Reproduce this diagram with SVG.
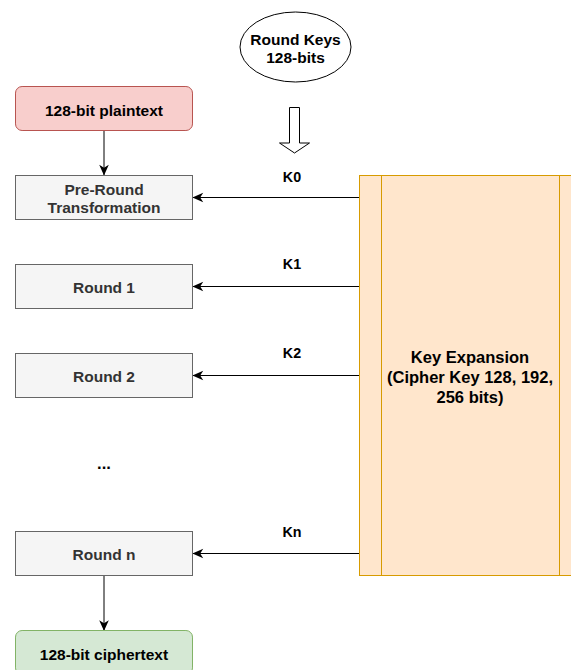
<svg xmlns="http://www.w3.org/2000/svg" width="571" height="670" viewBox="0 0 571 670">
  <style>
    text { font-family: "Liberation Sans", Arial, sans-serif; font-weight: bold; text-anchor: middle; }
    .node-text { font-size: 15.5px; fill: #000000; }
    .gray-text { font-size: 15.5px; fill: #333333; }
    .big-text { font-size: 16.5px; fill: #000000; }
    .label { font-size: 14.3px; fill: #000000; }
    .gray { fill: #f5f5f5; stroke: #666666; stroke-width: 1; }
    .edge { fill: none; stroke: #000000; stroke-width: 1; }
  </style>
  <defs>
    <marker id="arrow" markerUnits="userSpaceOnUse" markerWidth="12" markerHeight="12" viewBox="0 0 10 10" refX="9" refY="5" orient="auto">
      <path d="M0.5,1 L9.5,5 L0.5,9 L3,5 z" fill="#000000"/>
    </marker>
  </defs>

  <rect width="571" height="670" fill="#ffffff"/>

  <!-- connectors -->
  <g id="connectors">
    <line class="edge" x1="104" y1="131" x2="104" y2="175" marker-end="url(#arrow)"/>
    <line class="edge" x1="104" y1="575" x2="104" y2="630.5" marker-end="url(#arrow)"/>
    <line class="edge" x1="359.5" y1="197.5" x2="193" y2="197.5" marker-end="url(#arrow)"/>
    <line class="edge" x1="359.5" y1="286.5" x2="193" y2="286.5" marker-end="url(#arrow)"/>
    <line class="edge" x1="359.5" y1="375.5" x2="193" y2="375.5" marker-end="url(#arrow)"/>
    <line class="edge" x1="359.5" y1="553.5" x2="193" y2="553.5" marker-end="url(#arrow)"/>
    <text class="label" x="292" y="182">K0</text>
    <text class="label" x="292" y="269">K1</text>
    <text class="label" x="292" y="358">K2</text>
    <text class="label" x="292" y="537">Kn</text>
    <!-- hollow block arrow under the round-keys ellipse -->
    <polygon points="289.5,107.5 299.5,107.5 299.5,143 309.5,143 294.5,153 279.5,143 289.5,143" fill="#ffffff" stroke="#000000" stroke-width="1"/>
  </g>

  <g id="round-keys">
    <ellipse cx="295.5" cy="47" rx="55.5" ry="35" fill="#ffffff" stroke="#000000" stroke-width="1"/>
    <text class="node-text" x="295.5" y="44.9">Round Keys</text>
    <text class="node-text" x="295.5" y="62.9">128-bits</text>
  </g>

  <g id="plaintext">
    <rect x="15.5" y="86.5" width="177" height="44" rx="6.6" fill="#f8cecc" stroke="#b85450" stroke-width="1"/>
    <text class="node-text" x="104" y="115.6">128-bit plaintext</text>
  </g>

  <g id="pre-round">
    <rect class="gray" x="15.5" y="175.5" width="177" height="44"/>
    <text class="gray-text" x="104" y="194.9">Pre-Round</text>
    <text class="gray-text" x="104" y="212.9">Transformation</text>
  </g>

  <g id="round-1">
    <rect class="gray" x="15.5" y="264.5" width="177" height="44"/>
    <text class="gray-text" x="104" y="292.7">Round 1</text>
  </g>

  <g id="round-2">
    <rect class="gray" x="15.5" y="353.5" width="177" height="44"/>
    <text class="gray-text" x="104" y="381.6">Round 2</text>
  </g>

  <g id="ellipsis">
    <text class="big-text" x="104" y="469">...</text>
  </g>

  <g id="round-n">
    <rect class="gray" x="15.5" y="531.5" width="177" height="44"/>
    <text class="gray-text" x="104" y="559.6">Round n</text>
  </g>

  <g id="ciphertext">
    <rect x="15.5" y="630.5" width="177" height="44" rx="6.6" fill="#d5e8d4" stroke="#82b366" stroke-width="1"/>
    <text class="node-text" x="104" y="659.6">128-bit ciphertext</text>
  </g>

  <g id="key-expansion">
    <rect x="359.5" y="175.5" width="222" height="400" fill="#ffe6cc" stroke="#d79b00" stroke-width="1"/>
    <line x1="381.5" y1="175.5" x2="381.5" y2="575.5" stroke="#d79b00" stroke-width="1"/>
    <line x1="559.5" y1="175.5" x2="559.5" y2="575.5" stroke="#d79b00" stroke-width="1"/>
    <text class="big-text" x="470" y="362.6">Key Expansion</text>
    <text class="big-text" x="470" y="382.6">(Cipher Key 128, 192,</text>
    <text class="big-text" x="470" y="402.6">256 bits)</text>
  </g>
</svg>
